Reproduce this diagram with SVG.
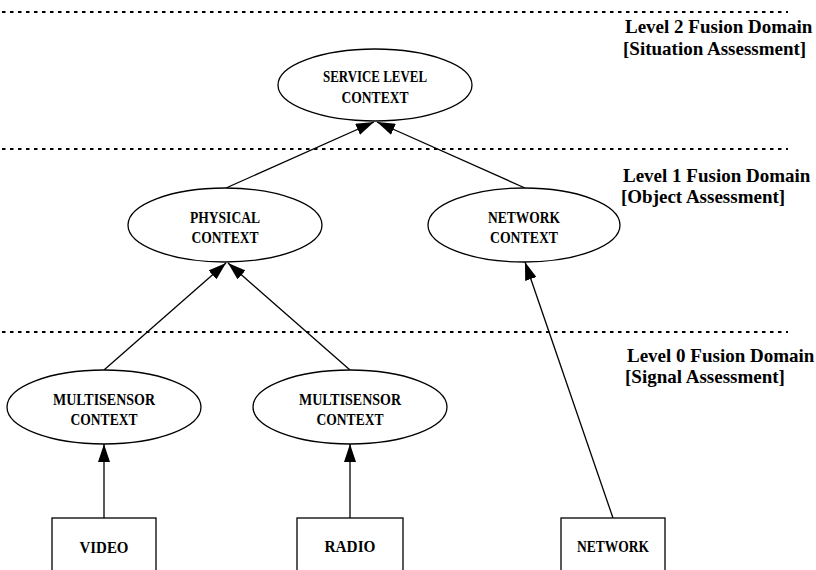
<svg xmlns="http://www.w3.org/2000/svg" width="816" height="570" viewBox="0 0 816 570">
  <style>
    .node { fill: #ffffff; stroke: #000000; stroke-width: 1.3; }
    .lbl { font-family: "Liberation Serif", "Times New Roman", serif; font-weight: bold; font-size: 17px; fill: #000000; text-anchor: middle; }
    .lvl { font-family: "Liberation Serif", "Times New Roman", serif; font-weight: bold; font-size: 19px; fill: #000000; }
    .sep { stroke: #000000; stroke-width: 2; stroke-dasharray: 3.5 4.5; fill: none; }
    .edge { stroke: #000000; stroke-width: 1.3; fill: none; marker-end: url(#arrow); }
  </style>
  <defs>
    <marker id="arrow" markerUnits="userSpaceOnUse" markerWidth="18" markerHeight="12" refX="18" refY="6" orient="auto">
      <path d="M0,0 L18,6 L0,12 Z" fill="#000000"/>
    </marker>
  </defs>
  <rect width="816" height="570" fill="#ffffff"/>

  <!-- fusion level separators and captions -->
  <g id="levels">
    <line class="sep" x1="2" y1="12" x2="788" y2="12"/>
    <line class="sep" x1="2" y1="149" x2="788" y2="149"/>
    <line class="sep" x1="2" y1="332" x2="788" y2="332"/>
    <text class="lvl" x="625" y="33">Level 2 Fusion Domain</text>
    <text class="lvl" x="623" y="55">[Situation Assessment]</text>
    <text class="lvl" x="623" y="182">Level 1 Fusion Domain</text>
    <text class="lvl" x="621" y="203">[Object Assessment]</text>
    <text class="lvl" x="627" y="362">Level 0 Fusion Domain</text>
    <text class="lvl" x="625" y="383">[Signal Assessment]</text>
  </g>

  <!-- connectors -->
  <g id="edges">
    <line class="edge" x1="104" y1="518" x2="104" y2="444"/>
    <line class="edge" x1="350" y1="518" x2="350" y2="444"/>
    <line class="edge" x1="613" y1="518" x2="525" y2="262"/>
    <line class="edge" x1="104" y1="370" x2="226" y2="263"/>
    <line class="edge" x1="350" y1="370" x2="228" y2="263"/>
    <line class="edge" x1="226" y1="188" x2="374" y2="122"/>
    <line class="edge" x1="525" y1="188" x2="377" y2="122"/>
  </g>

  <g id="service-level-context">
    <ellipse class="node" cx="375" cy="85" rx="97" ry="36"/>
    <text class="lbl" x="375" y="82" textLength="104" lengthAdjust="spacingAndGlyphs">SERVICE LEVEL</text>
    <text class="lbl" x="375" y="103" textLength="67" lengthAdjust="spacingAndGlyphs">CONTEXT</text>
  </g>

  <g id="physical-context">
    <ellipse class="node" cx="225" cy="225" rx="97" ry="37"/>
    <text class="lbl" x="225" y="223" textLength="70" lengthAdjust="spacingAndGlyphs">PHYSICAL</text>
    <text class="lbl" x="225" y="243" textLength="67" lengthAdjust="spacingAndGlyphs">CONTEXT</text>
  </g>

  <g id="network-context">
    <ellipse class="node" cx="524" cy="225" rx="96" ry="37"/>
    <text class="lbl" x="524" y="223" textLength="72" lengthAdjust="spacingAndGlyphs">NETWORK</text>
    <text class="lbl" x="524" y="243" textLength="68" lengthAdjust="spacingAndGlyphs">CONTEXT</text>
  </g>

  <g id="multisensor-context-1">
    <ellipse class="node" cx="104" cy="407" rx="97" ry="37"/>
    <text class="lbl" x="104" y="405" textLength="102" lengthAdjust="spacingAndGlyphs">MULTISENSOR</text>
    <text class="lbl" x="104" y="425" textLength="67" lengthAdjust="spacingAndGlyphs">CONTEXT</text>
  </g>

  <g id="multisensor-context-2">
    <ellipse class="node" cx="350" cy="407" rx="97" ry="37"/>
    <text class="lbl" x="350" y="405" textLength="102" lengthAdjust="spacingAndGlyphs">MULTISENSOR</text>
    <text class="lbl" x="350" y="425" textLength="67" lengthAdjust="spacingAndGlyphs">CONTEXT</text>
  </g>

  <g id="video">
    <rect class="node" x="52" y="518" width="104" height="60"/>
    <text class="lbl" x="104" y="553" textLength="49" lengthAdjust="spacingAndGlyphs">VIDEO</text>
  </g>

  <g id="radio">
    <rect class="node" x="297" y="518" width="106" height="60"/>
    <text class="lbl" x="350" y="552" textLength="51" lengthAdjust="spacingAndGlyphs">RADIO</text>
  </g>

  <g id="network">
    <rect class="node" x="561" y="518" width="104" height="60"/>
    <text class="lbl" x="613" y="552" textLength="72" lengthAdjust="spacingAndGlyphs">NETWORK</text>
  </g>
</svg>
